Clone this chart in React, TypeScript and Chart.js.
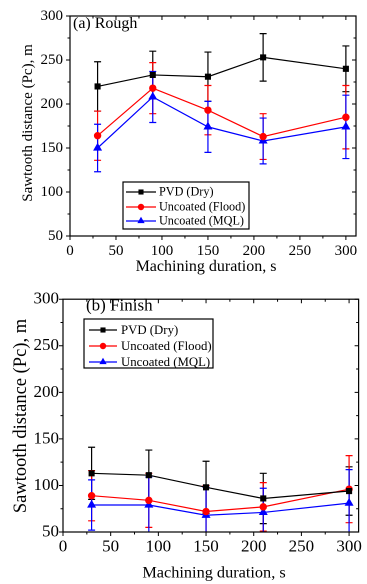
import React, { useEffect, useRef } from "react";
import { Chart, registerables } from "chart.js";

Chart.register(...registerables);

// ---------- data ----------
const durations = [30, 90, 150, 210, 300];
const seriesLabels = ["PVD (Dry)", "Uncoated (Flood)", "Uncoated (MQL)"];
const seriesColors = ["#000000", "#ff0000", "#0000ff"];
const seriesMarkers = ["rect", "circle", "triangle"];
const seriesMarkerSizes = [3.6, 3.2, 4.2];

const roughPVD = [220, 233, 231, 253, 240];
const roughPVDErr = [28, 27, 28, 27, 26];
const roughFlood = [164, 218, 193, 163, 185];
const roughFloodErr = [28, 29, 28, 26, 36];
const roughMQL = [150, 208, 174, 158, 174];
const roughMQLErr = [27, 29, 29, 26, 36];

const finishPVD = [113, 111, 98, 86, 94];
const finishPVDErr = [28, 27, 28, 27, 26];
const finishFlood = [89, 84, 72, 77, 96];
const finishFloodErr = [27, 29, 28, 26, 36];
const finishMQL = [79, 79, 68, 71, 81];
const finishMQLErr = [27, 30, 30, 26, 36];

const xMajorStep = 50;
const xMinorStep = 25;
const yMin = 50;
const yMax = 300;
const yMajorStep = 50;
const yMinorStep = 25;
const panelTitles = ["(a) Rough", "(b) Finish"];
const xTitle = "Machining duration, s";
const yTitle = "Sawtooth distance (Pc), m";

const FONT = '"Liberation Serif", "Times New Roman", Times, serif';
const W = 367;

type Spec = {
  height: number;
  area: { left: number; top: number; right: number; bottom: number };
  xMax: number;
  tickFont: number;
  tickPadX: number;
  tickPadY: number;
  title: string;
  titleFont: number;
  titleX: number;
  titleY: number;
  xTitleFont: number;
  xTitleX: number;
  xTitleY: number;
  yTitleFont: number;
  yTitleX: number;
  yTitleY: number;
  legend: {
    left: number; top: number; right: number; bottom: number;
    rows: number[]; lineX0: number; lineX1: number; textX: number; font: number;
  };
  values: number[][];
  errors: number[][];
};

const specs: Spec[] = [
  {
    height: 285,
    area: { left: 70, top: 13, right: 356, bottom: 236 },
    xMax: 311,
    tickFont: 15,
    tickPadX: 6,
    tickPadY: 7,
    title: panelTitles[0],
    titleFont: 16,
    titleX: 73,
    titleY: 24,
    xTitleFont: 16,
    xTitleX: 206,
    xTitleY: 267,
    yTitleFont: 15,
    yTitleX: 28,
    yTitleY: 123,
    legend: {
      left: 123, top: 182, right: 249, bottom: 229,
      rows: [192, 207, 221], lineX0: 126, lineX1: 156, textX: 159, font: 12.2,
    },
    values: [roughPVD, roughFlood, roughMQL],
    errors: [roughPVDErr, roughFloodErr, roughMQLErr],
  },
  {
    height: 299,
    area: { left: 63, top: 11, right: 364, bottom: 247 },
    xMax: 310,
    tickFont: 17,
    tickPadX: 5,
    tickPadY: 4,
    title: panelTitles[1],
    titleFont: 17,
    titleX: 86,
    titleY: 21,
    xTitleFont: 16.3,
    xTitleX: 214,
    xTitleY: 288,
    yTitleFont: 18.5,
    yTitleX: 21,
    yTitleY: 131,
    legend: {
      left: 84, top: 34, right: 213, bottom: 83,
      rows: [45, 61, 77], lineX0: 89, lineX1: 117, textX: 121, font: 12.8,
    },
    values: [finishPVD, finishFlood, finishMQL],
    errors: [finishPVDErr, finishFloodErr, finishMQLErr],
  },
];

function drawMarker(ctx: CanvasRenderingContext2D, style: string, r: number, x: number, y: number) {
  ctx.beginPath();
  if (style === "rect") {
    const s = r * Math.SQRT1_2;
    ctx.rect(x - s, y - s, 2 * s, 2 * s);
  } else if (style === "circle") {
    ctx.arc(x, y, r, 0, Math.PI * 2);
  } else {
    const h = r * 1.5;
    const side = (r * 3) / Math.sqrt(3);
    ctx.moveTo(x, y - (2 * h) / 3);
    ctx.lineTo(x + side / 2, y + h / 3);
    ctx.lineTo(x - side / 2, y + h / 3);
    ctx.closePath();
  }
  ctx.fill();
}

function makePlugin(spec: Spec) {
  return {
    id: "panelDecor",
    beforeDatasetsDraw(chart: any) {
      const ctx = chart.ctx;
      const xs = chart.scales.x;
      const ys = chart.scales.y;
      const a = chart.chartArea;
      ctx.save();
      ctx.beginPath();
      ctx.rect(a.left, a.top, a.right - a.left, a.bottom - a.top);
      ctx.clip();
      spec.values.forEach((vals, i) => {
        const errs = spec.errors[i];
        ctx.strokeStyle = seriesColors[i];
        ctx.lineWidth = 1.2;
        vals.forEach((v, j) => {
          const px = xs.getPixelForValue(durations[j]);
          const pt = ys.getPixelForValue(v + errs[j]);
          const pb = ys.getPixelForValue(v - errs[j]);
          ctx.beginPath();
          ctx.moveTo(px, pt);
          ctx.lineTo(px, pb);
          ctx.moveTo(px - 3.5, pt);
          ctx.lineTo(px + 3.5, pt);
          ctx.moveTo(px - 3.5, pb);
          ctx.lineTo(px + 3.5, pb);
          ctx.stroke();
        });
      });
      ctx.restore();
    },
    afterDraw(chart: any) {
      const ctx = chart.ctx;
      const xs = chart.scales.x;
      const ys = chart.scales.y;
      const a = chart.chartArea;
      ctx.save();
      ctx.strokeStyle = "#000";
      ctx.lineWidth = 1.2;
      ctx.strokeRect(a.left, a.top, a.right - a.left, a.bottom - a.top);
      ctx.lineWidth = 1;
      ctx.beginPath();
      for (let v = 0; v <= spec.xMax; v += xMinorStep) {
        const major = v % xMajorStep === 0;
        const len = major ? 4 : 2.5;
        const px = xs.getPixelForValue(v);
        ctx.moveTo(px, a.bottom);
        ctx.lineTo(px, a.bottom + len);
        ctx.moveTo(px, a.top);
        ctx.lineTo(px, a.top + len);
      }
      for (let v = yMin; v <= yMax; v += yMinorStep) {
        const major = v % yMajorStep === 0;
        const len = major ? 4 : 2.5;
        const py = ys.getPixelForValue(v);
        ctx.moveTo(a.left, py);
        ctx.lineTo(a.left - len, py);
        ctx.moveTo(a.right, py);
        ctx.lineTo(a.right - len, py);
      }
      ctx.stroke();

      ctx.fillStyle = "#000";
      ctx.font = `${spec.titleFont}px ${FONT}`;
      ctx.textAlign = "left";
      ctx.textBaseline = "middle";
      ctx.fillText(spec.title, spec.titleX, spec.titleY);

      ctx.font = `${spec.xTitleFont}px ${FONT}`;
      ctx.textAlign = "center";
      ctx.fillText(xTitle, spec.xTitleX, spec.xTitleY);
      ctx.save();
      ctx.translate(spec.yTitleX, spec.yTitleY);
      ctx.rotate(-Math.PI / 2);
      ctx.font = `${spec.yTitleFont}px ${FONT}`;
      ctx.fillText(yTitle, 0, 0);
      ctx.restore();

      const L = spec.legend;
      ctx.fillStyle = "#fff";
      ctx.fillRect(L.left, L.top, L.right - L.left, L.bottom - L.top);
      ctx.strokeStyle = "#000";
      ctx.lineWidth = 1.2;
      ctx.strokeRect(L.left, L.top, L.right - L.left, L.bottom - L.top);
      seriesLabels.forEach((lab, i) => {
        const y = L.rows[i];
        ctx.strokeStyle = seriesColors[i];
        ctx.lineWidth = 1.2;
        ctx.beginPath();
        ctx.moveTo(L.lineX0, y);
        ctx.lineTo(L.lineX1, y);
        ctx.stroke();
        ctx.fillStyle = seriesColors[i];
        drawMarker(ctx, seriesMarkers[i], seriesMarkerSizes[i], (L.lineX0 + L.lineX1) / 2, y);
        ctx.fillStyle = "#000";
        ctx.font = `${L.font}px ${FONT}`;
        ctx.textAlign = "left";
        ctx.textBaseline = "middle";
        ctx.fillText(lab, L.textX, y + 0.5);
      });
      ctx.restore();
    },
  };
}

function Panel({ spec }: { spec: Spec }) {
  const ref = useRef<HTMLCanvasElement | null>(null);
  useEffect(() => {
    if (!ref.current) return;
    const datasets = spec.values.map((vals, i) => ({
      label: seriesLabels[i],
      data: vals.map((v, j) => ({ x: durations[j], y: v })),
      borderColor: seriesColors[i],
      backgroundColor: seriesColors[i],
      borderWidth: 1.2,
      pointStyle: seriesMarkers[i] as any,
      pointRadius: seriesMarkerSizes[i],
      pointBorderWidth: 1,
      showLine: true,
      tension: 0,
    }));
    const chart = new Chart(ref.current, {
      type: "scatter",
      data: { datasets },
      options: {
        responsive: false,
        animation: false,
        devicePixelRatio: 2,
        events: [],
        layout: {
          padding: { left: 0, top: spec.area.top, right: W - spec.area.right, bottom: 0 },
        },
        plugins: { legend: { display: false }, tooltip: { enabled: false }, title: { display: false } },
        scales: {
          x: {
            type: "linear",
            min: 0,
            max: spec.xMax,
            grid: { display: false, drawTicks: false },
            border: { display: false },
            ticks: {
              stepSize: xMajorStep,
              includeBounds: false,
              color: "#000",
              padding: spec.tickPadX,
              maxRotation: 0,
              font: { family: FONT, size: spec.tickFont },
            },
            afterFit: (s: any) => {
              s.height = spec.height - spec.area.bottom;
            },
          },
          y: {
            type: "linear",
            min: yMin,
            max: yMax,
            grid: { display: false, drawTicks: false },
            border: { display: false },
            ticks: {
              stepSize: yMajorStep,
              includeBounds: false,
              color: "#000",
              padding: spec.tickPadY,
              font: { family: FONT, size: spec.tickFont },
            },
            afterFit: (s: any) => {
              s.width = spec.area.left;
            },
          },
        },
      },
      plugins: [makePlugin(spec)],
    } as any);
    return () => chart.destroy();
  }, [spec]);
  return (
    <canvas
      ref={ref}
      width={W}
      height={spec.height}
      style={{ display: "block", width: W, height: spec.height }}
    />
  );
}

export default function App() {
  return (
    <div
      style={{
        position: "absolute",
        left: 0,
        top: 0,
        width: W,
        height: 584,
        background: "#fff",
      }}
    >
      {specs.map((s, i) => (
        <Panel key={i} spec={s} />
      ))}
    </div>
  );
}
